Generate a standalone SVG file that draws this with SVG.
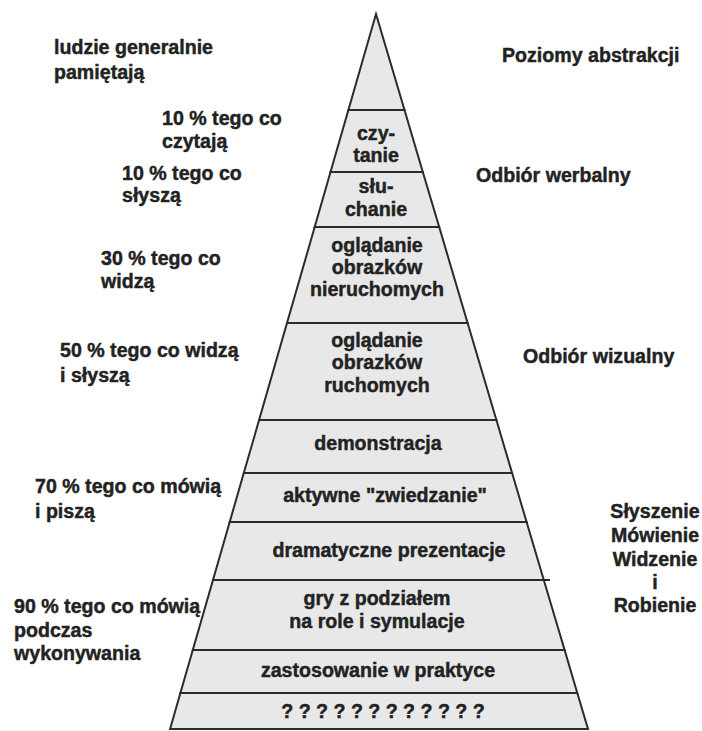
<svg xmlns="http://www.w3.org/2000/svg" width="702" height="731" viewBox="0 0 702 731">
<style>
.band{fill:#e8e8e8;stroke:#2b2b2b;stroke-width:2;stroke-linejoin:miter}
.t{font-family:"Liberation Sans",Arial,sans-serif;font-weight:bold;font-size:19.6px;fill:#222;stroke:#222;stroke-width:0.45}
.c{text-anchor:middle}
.ln{stroke:#2b2b2b;stroke-width:2}
</style>
<rect width="702" height="731" fill="#fff"/>
<g id="pyramid">
<g id="level-top"><polygon class="band" points="376,14 404.5,110 348.4,110"/></g>
<g id="level-czytanie"><polygon class="band" points="348.4,110 404.5,110 422.8,172 330.5,172"/>
<text class="t c" x="376" y="140">czy-</text><text class="t c" x="376" y="162">tanie</text></g>
<g id="level-sluchanie"><polygon class="band" points="330.5,172 422.8,172 439.2,227 314.7,227"/>
<text class="t c" x="376" y="193">słu-</text><text class="t c" x="376" y="216">chanie</text></g>
<g id="level-nieruchome"><polygon class="band" points="314.7,227 439.2,227 467.6,323 287,323"/>
<text class="t c" x="377" y="252">oglądanie</text><text class="t c" x="377" y="274">obrazków</text><text class="t c" x="377" y="296">nieruchomych</text></g>
<g id="level-ruchome"><polygon class="band" points="287,323 467.6,323 496.4,420 259.1,420"/>
<text class="t c" x="377" y="347">oglądanie</text><text class="t c" x="377" y="369">obrazków</text><text class="t c" x="377" y="392">ruchomych</text></g>
<g id="level-demonstracja"><polygon class="band" points="259.1,420 496.4,420 512.1,473 243.8,473"/>
<text class="t c" x="378" y="450">demonstracja</text></g>
<g id="level-zwiedzanie"><polygon class="band" points="243.8,473 512.1,473 526.6,522 229.7,522"/>
<text class="t c" x="385" y="502">aktywne "zwiedzanie"</text></g>
<g id="level-dramatyczne"><polygon class="band" points="229.7,522 526.6,522 543.8,580 213,580"/>
<line class="ln" x1="540" y1="580" x2="550" y2="580"/>
<text class="t c" x="389" y="557">dramatyczne prezentacje</text></g>
<g id="level-gry"><polygon class="band" points="213,580 543.8,580 564.6,650 192.8,650"/>
<text class="t c" x="377" y="605">gry z podziałem</text><text class="t c" x="377" y="628">na role i symulacje</text></g>
<g id="level-praktyka"><polygon class="band" points="192.8,650 564.6,650 577.3,693 180.4,693"/>
<text class="t c" x="378" y="677">zastosowanie w praktyce</text></g>
<g id="level-nieznane"><polygon class="band" points="180.4,693 577.3,693 588,729 170.1,729"/>
<text class="t c" x="383" y="718">? ? ? ? ? ? ? ? ? ? ? ?</text></g>
</g>
<g id="connectors"></g>
<g id="left-labels">
<g id="lbl-header"><text class="t" x="54" y="54">ludzie generalnie</text><text class="t" x="54" y="79">pamiętają</text></g>
<g id="lbl-10a"><text class="t" x="162" y="125">10 % tego co</text><text class="t" x="162" y="148">czytają</text></g>
<g id="lbl-10b"><text class="t" x="122" y="180">10 % tego co</text><text class="t" x="122" y="202">słyszą</text></g>
<g id="lbl-30"><text class="t" x="101" y="265">30 % tego co</text><text class="t" x="101" y="288">widzą</text></g>
<g id="lbl-50"><text class="t" x="60" y="357">50 % tego co widzą</text><text class="t" x="60" y="382">i słyszą</text></g>
<g id="lbl-70"><text class="t" x="35" y="493">70 % tego co mówią</text><text class="t" x="35" y="518">i piszą</text></g>
<g id="lbl-90"><text class="t" x="14" y="613">90 % tego co mówią</text><text class="t" x="14" y="637">podczas</text><text class="t" x="14" y="660">wykonywania</text></g>
</g>
<g id="right-labels">
<g id="lbl-abstrakcja"><text class="t" x="502" y="62">Poziomy abstrakcji</text></g>
<g id="lbl-werbalny"><text class="t" x="476" y="182">Odbiór werbalny</text></g>
<g id="lbl-wizualny"><text class="t" x="523" y="363">Odbiór wizualny</text></g>
<g id="lbl-robienie"><text class="t c" x="655" y="518">Słyszenie</text><text class="t c" x="655" y="542">Mówienie</text><text class="t c" x="655" y="566">Widzenie</text><text class="t c" x="655" y="589">i</text><text class="t c" x="655" y="612">Robienie</text></g>
</g>
</svg>
